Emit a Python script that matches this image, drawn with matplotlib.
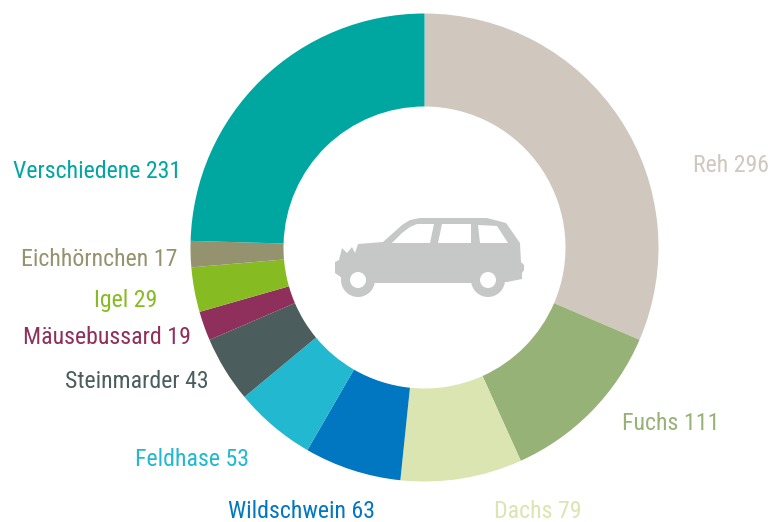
import matplotlib
matplotlib.use('Agg')
import matplotlib.pyplot as plt
from matplotlib.patches import Polygon, Circle

plt.rcParams['font.family'] = ['Roboto Condensed', 'Archivo Narrow', 'DejaVu Sans']

names = ['Reh', 'Fuchs', 'Dachs', 'Wildschwein', 'Feldhase', 'Steinmarder',
         'Mäusebussard', 'Igel', 'Eichhörnchen', 'Verschiedene']
counts = [296, 111, 79, 63, 53, 43, 19, 29, 17, 231]
colors = ['#D0C7BE', '#97B277', '#DAE5B1', '#0077C0', '#22B8D0', '#4B5D5C',
          '#8F2F5B', '#86BC21', '#95936F', '#00A7A0']

W, H = 771, 522
cx, cy = 424.5, 247.5
R_out, R_in = 234, 141

# x anchor, y centre (pixels from the top), horizontal alignment
label_pos = [(769, 165, 'right'), (622, 423, 'left'), (494, 512, 'left'),
             (228, 511, 'left'), (135, 459, 'left'), (209, 382, 'right'),
             (191, 338, 'right'), (157, 300, 'right'), (177, 260, 'right'),
             (181, 172, 'right')]

car_color = '#C6C8C7'
# car icon outline, in pixels of the picture
car_body = [(335, 262), (339, 260), (342, 248), (347, 253), (352, 247), (355, 253),
            (358, 244), (383, 242), (402, 225), (410, 220), (420, 218), (487, 218),
            (506, 223), (520, 243), (521, 262), (524, 265), (524, 270), (522, 273),
            (522, 279), (507, 282), (471, 283), (376, 283), (342, 278), (335, 273)]
car_windows = [[(392, 243), (402, 233), (410, 227), (417, 224), (434, 224), (430, 243)],
               [(438, 243), (442, 224), (471, 224), (471, 243)],
               [(480, 243), (478, 225), (497, 226), (508, 243)]]
car_wheels = [(358, 280), (488, 280)]

fig = plt.figure(figsize=(W / 100, H / 100), dpi=100)
ax = fig.add_axes([0, 0, 1, 1])

ax.pie(counts, colors=colors, startangle=90, counterclock=False,
       center=(cx, H - cy), radius=R_out,
       wedgeprops={'width': R_out - R_in, 'edgecolor': 'none'})

ax.set_xlim(0, W)
ax.set_ylim(0, H)
ax.set_aspect('equal')
ax.axis('off')

for name, n, c, (x, y, ha) in zip(names, counts, colors, label_pos):
    ax.text(x, H - y, f'{name} {n}', color=c, fontsize=17.2, ha=ha, va='center')


def flip(pts):
    return [(x, H - y) for x, y in pts]


ax.add_patch(Polygon(flip(car_body), closed=True, fc=car_color, ec='none'))
for win in car_windows:
    ax.add_patch(Polygon(flip(win), closed=True, fc='white', ec='none'))
for x, y in car_wheels:
    ax.add_patch(Circle((x, H - y), 17, fc=car_color, ec='none'))
    ax.add_patch(Circle((x, H - y), 8, fc='white', ec='none'))

fig.savefig('out.png', dpi=100)
